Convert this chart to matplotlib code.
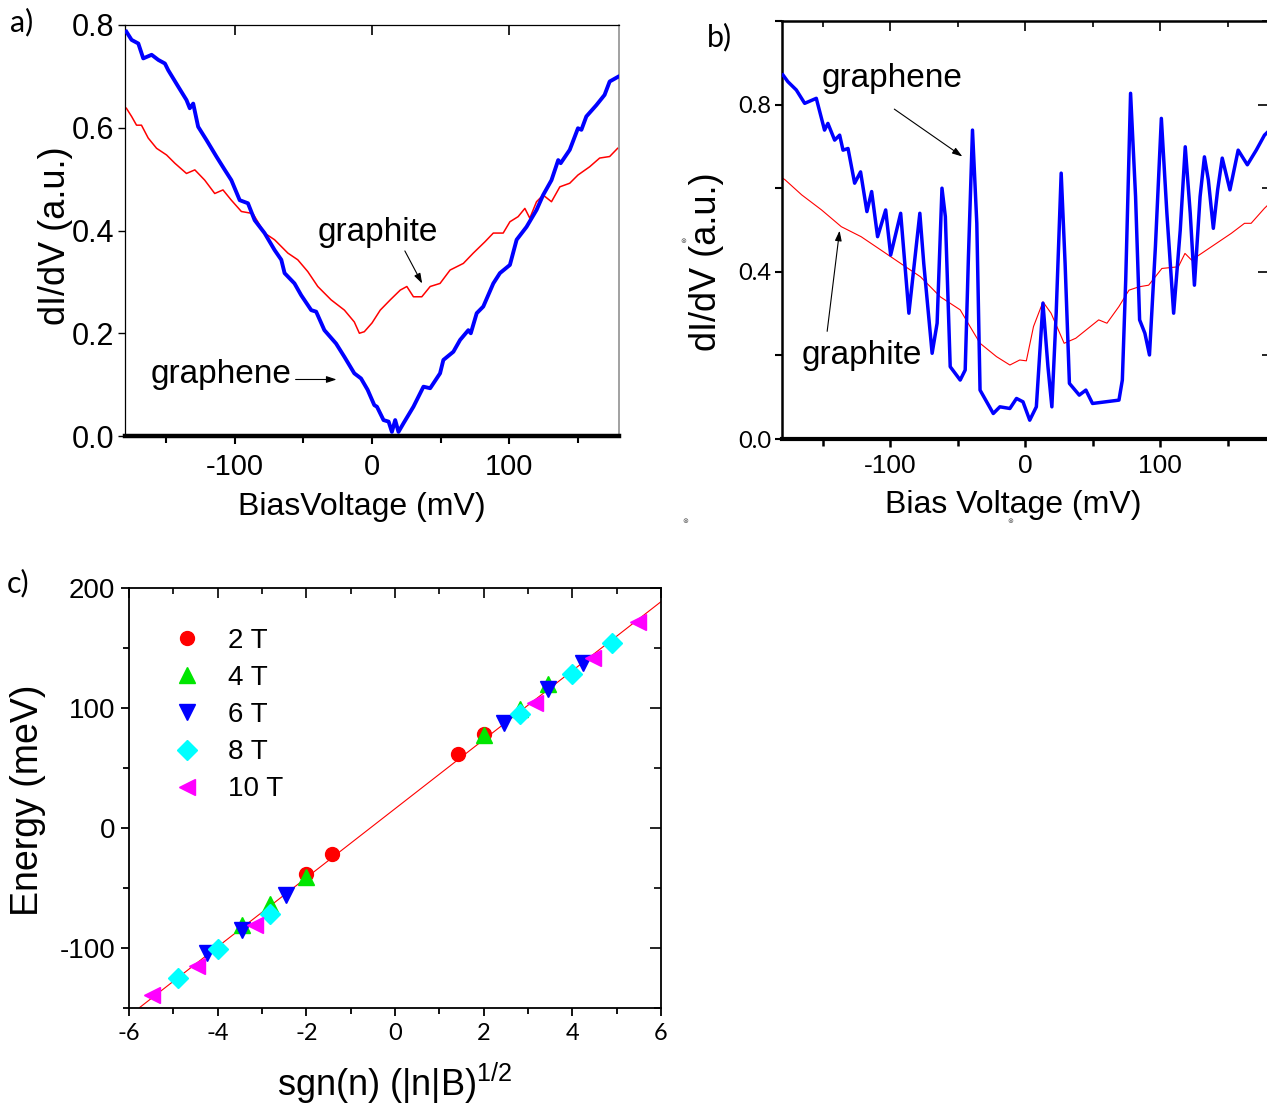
import matplotlib
matplotlib.use("Agg")
import matplotlib.pyplot as plt
from matplotlib.ticker import MultipleLocator, FormatStrFormatter

plt.rcParams['font.family'] = ['Liberation Sans', 'DejaVu Sans']
plt.rcParams['mathtext.fontset'] = 'custom'
plt.rcParams['mathtext.rm'] = 'Liberation Sans'
plt.rcParams['mathtext.it'] = 'Liberation Sans:italic'
plt.rcParams['axes.unicode_minus'] = False

# ---------------- data: panel a ----------------
a_bias_graphene = [-179, -175.2, -170.3, -166.7, -160.6, -155.7, -150.9, -148.5, -141.2, -135.2, -132.8, -130.3,
                   -126.7, -120.6, -113.4, -107.3, -102.5, -96.4, -90.4, -85.5, -78.3, -71, -66.1, -63.7, -56.5,
                   -51.6, -44.3, -40.7, -34.7, -26.2, -20.1, -12.9, -8, -3.2, 1.7, 3.6, 8.4, 12.1, 14.5, 16.9,
                   19.3, 23, 30.2, 37.5, 42.4, 49.6, 52, 59.3, 64.2, 70.2, 72, 76.3, 81.1, 88.4, 93.2, 100.5,
                   105.4, 112.6, 119.9, 124.7, 130.8, 135.7, 137.5, 144.1, 150.1, 152.6, 156.2, 163.5, 169.5,
                   173.2, 179.2]
a_didv_graphene = [0.787, 0.771, 0.764, 0.735, 0.742, 0.732, 0.725, 0.712, 0.680, 0.654, 0.638, 0.647,
                   0.602, 0.576, 0.544, 0.518, 0.498, 0.459, 0.453, 0.420, 0.395, 0.362, 0.343, 0.317, 0.297,
                   0.274, 0.245, 0.242, 0.206, 0.180, 0.154, 0.122, 0.112, 0.090, 0.060, 0.057, 0.031, 0.028,
                   0.008, 0.031, 0.008, 0.025, 0.057, 0.096, 0.093, 0.122, 0.148, 0.164, 0.187, 0.206, 0.200,
                   0.239, 0.252, 0.297, 0.317, 0.333, 0.382, 0.407, 0.440, 0.469, 0.498, 0.537, 0.531, 0.557,
                   0.599, 0.596, 0.622, 0.644, 0.664, 0.690, 0.699]
a_bias_graphite = [-179, -175.2, -171.6, -168, -163.1, -157, -149.7, -143.7, -135.2, -129.1, -121.9, -114.6,
                   -108.6, -102.5, -95.2, -86.8, -78.3, -71, -61.3, -54.1, -46.8, -39.5, -29.8, -20.1, -12.9,
                   -9.2, -5.6, 0, 6, 13.3, 20.6, 25.4, 30.2, 36.3, 42.4, 49.6, 56.9, 66.6, 73.8, 82.3, 88.4,
                   95.6, 100.5, 106.5, 111.4, 115, 119.9, 124.7, 130.8, 136.9, 144.1, 150.1, 158.6, 165.9, 173.2,
                   179]
a_didv_graphite = [0.638, 0.622, 0.605, 0.605, 0.580, 0.560, 0.547, 0.531, 0.511, 0.518, 0.498, 0.472,
                   0.479, 0.459, 0.437, 0.433, 0.395, 0.382, 0.356, 0.343, 0.320, 0.291, 0.265, 0.245, 0.222,
                   0.200, 0.203, 0.220, 0.245, 0.265, 0.284, 0.291, 0.271, 0.271, 0.291, 0.297, 0.323, 0.336,
                   0.356, 0.378, 0.395, 0.395, 0.417, 0.427, 0.443, 0.424, 0.456, 0.469, 0.456, 0.485, 0.492,
                   0.508, 0.524, 0.541, 0.544, 0.560]

# ---------------- data: panel b ----------------
b_bias_graphene = [-179.3, -175.7, -169.4, -163.2, -154.6, -148.5, -146, -141, -137.3, -134.8, -131.1, -126.2,
                   -121.8, -117.1, -113.6, -109.2, -103.2, -99.5, -92.1, -86, -77.9, -75, -68.8, -65.1, -61.5,
                   -59, -55.4, -48, -44.3, -41.9, -38.9, -35.7, -33.3, -23.5, -18.6, -11.2, -6.3, -1.5, 3.5,
                   8.4, 13.3, 17, 19.9, 23.1, 26.8, 29.7, 32.9, 40.2, 45.1, 50, 59.8, 69.6, 72.1, 74.6, 78.2,
                   81.9, 84.9, 88.8, 92.2, 96.6, 101, 105.1, 110.1, 115, 118.7, 122.4, 125.5, 129.7, 132.9, 135.8,
                   139.5, 142.7, 146.1, 151.8, 157.9, 164.7, 171.3, 177.4, 180]
b_didv_graphene = [0.871, 0.855, 0.835, 0.803, 0.815, 0.739, 0.755, 0.715, 0.727, 0.691, 0.695, 0.612,
                   0.639, 0.544, 0.592, 0.484, 0.548, 0.440, 0.540, 0.301, 0.540, 0.420, 0.205, 0.277, 0.600,
                   0.532, 0.173, 0.141, 0.165, 0.436, 0.739, 0.516, 0.117, 0.061, 0.077, 0.073, 0.097, 0.089,
                   0.045, 0.077, 0.325, 0.173, 0.077, 0.301, 0.636, 0.420, 0.133, 0.105, 0.117, 0.085, 0.089,
                   0.093, 0.141, 0.380, 0.827, 0.580, 0.285, 0.253, 0.201, 0.460, 0.767, 0.540, 0.301, 0.500,
                   0.699, 0.540, 0.368, 0.580, 0.675, 0.620, 0.504, 0.596, 0.672, 0.596, 0.691, 0.656, 0.691,
                   0.727, 0.735]
b_bias_graphite = [-180, -177.7, -165.4, -150.7, -136.1, -121.4, -106.7, -92.1, -77.4, -62.7, -48, -40.7,
                   -33.3, -21.1, -11.2, -3.9, 1.0, 6.3, 13.3, 19.3, 29, 37.6, 54.6, 60.7, 69.6, 77, 84.3, 91.6,
                   101.4, 113.6, 118.5, 123.4, 138.1, 152.8, 162.6, 167.5, 177.4, 180]
b_didv_graphite = [0.625, 0.620, 0.584, 0.548, 0.508, 0.484, 0.452, 0.420, 0.388, 0.340, 0.309, 0.269,
                   0.229, 0.197, 0.177, 0.189, 0.187, 0.269, 0.328, 0.301, 0.229, 0.241, 0.285, 0.277, 0.317,
                   0.356, 0.364, 0.368, 0.408, 0.412, 0.444, 0.428, 0.460, 0.492, 0.516, 0.516, 0.552, 0.560]

# ---------------- data: panel c ----------------
c_fields = ['2 T', '4 T', '6 T', '8 T', '10 T']
c_x = [
    [1.41, 2.0, -1.41, -2.0],
    [2.0, 2.83, 3.46, -2.0, -2.83, -3.46],
    [2.45, 3.46, 4.24, -2.45, -3.46, -4.24],
    [2.83, 4.0, 4.9, -2.83, -4.0, -4.9],
    [3.16, 4.47, 5.48, -3.16, -4.47, -5.48],
]
c_energy = [
    [61.6, 78.5, -21.4, -38.0],
    [77.6, 99.5, 119.9, -41.2, -63.6, -81.1],
    [87.9, 115.5, 137.4, -55.7, -84.9, -104.4],
    [95.1, 128.6, 154.3, -71.8, -100.6, -125.4],
    [104.5, 141.7, 171.7, -81.1, -115.2, -139.4],
]
fit_x = [-5.76, 6.0]
fit_energy = [-149.6, 188.6]

c_markers = ['o', '^', 'v', 'D', '<']
c_colors = ['#ff0000', '#00e600', '#0000ff', '#00ffff', '#ff00ff']
c_sizes = [10, 12, 12, 10, 12]

# ---------------- figure ----------------
W, H = 1267, 1107
fig = plt.figure(figsize=(W / 100, H / 100), dpi=100)


def box(l, t, r, b):
    return [l / W, 1 - b / H, (r - l) / W, (b - t) / H]


def top_right_ticks(ax, xmaj, xmin, ymaj, ymin, top=True, right=True, xlen=7, ylen=7):
    if top:
        sx = ax.secondary_xaxis('top')
        sx.xaxis.set_major_locator(MultipleLocator(xmaj))
        if xmin:
            sx.xaxis.set_minor_locator(MultipleLocator(xmin))
        sx.tick_params(which='major', direction='in', length=xlen, width=1.2, labeltop=False)
        sx.tick_params(which='minor', direction='in', length=xlen * 0.6, width=1.2, labeltop=False)
        sx.spines['top'].set_visible(False)
    if right:
        sy = ax.secondary_yaxis('right')
        sy.yaxis.set_major_locator(MultipleLocator(ymaj))
        if ymin:
            sy.yaxis.set_minor_locator(MultipleLocator(ymin))
        sy.tick_params(which='major', direction='in', length=ylen, width=1.2, labelright=False)
        sy.tick_params(which='minor', direction='in', length=ylen * 0.6, width=1.2, labelright=False)
        sy.spines['right'].set_visible(False)


ARROW = dict(arrowstyle='-|>,head_length=0.6,head_width=0.2', color='black', lw=0.8)

# ---- panel a ----
axa = fig.add_axes(box(125, 25, 619, 436))
axa.plot(a_bias_graphite, a_didv_graphite, color='#ff0000', lw=1.1, zorder=2)
axa.plot(a_bias_graphene, a_didv_graphene, color='#0000ff', lw=2.8, zorder=3)
axa.set_xlim(-180, 180)
axa.set_ylim(0, 0.8)
axa.xaxis.set_major_locator(MultipleLocator(100))
axa.xaxis.set_minor_locator(MultipleLocator(50))
axa.yaxis.set_major_locator(MultipleLocator(0.2))
axa.yaxis.set_major_formatter(FormatStrFormatter('%.1f'))
axa.tick_params(axis='x', which='major', direction='out', length=6, width=1.5, labelsize=21, pad=6)
axa.tick_params(axis='x', which='minor', direction='out', length=5, width=1.5)
axa.tick_params(axis='y', which='major', direction='out', length=5, width=1, labelsize=22, pad=3)
for s in ['left', 'top']:
    axa.spines[s].set_linewidth(0.9)
axa.spines['right'].set_linewidth(1.1)
axa.spines['right'].set_color('#888888')
axa.spines['bottom'].set_linewidth(3.2)
top_right_ticks(axa, 100, None, 0.2, None, top=True, right=False, xlen=7)
axa.set_xlabel('BiasVoltage (mV)', fontsize=23, va='center')
axa.xaxis.set_label_coords(0.48, -0.173)
axa.set_ylabel('dI/dV (a.u.)', fontsize=26, va='center')
axa.yaxis.set_label_coords(-0.14, 0.487)
axa.text(4.5, 0.396, 'graphite', fontsize=24, ha='center', va='center')
axa.annotate('', xy=(37.5, 0.292), xytext=(23, 0.365), arrowprops=ARROW)
axa.text(-110, 0.12, 'graphene', fontsize=24, ha='center', va='center')
axa.annotate('', xy=(-23.8, 0.110), xytext=(-57.7, 0.110), arrowprops=ARROW)

# ---- panel b ----
axb = fig.add_axes(box(782, 21, 1268, 439))
axb.plot(b_bias_graphite, b_didv_graphite, color='#ff0000', lw=0.8, zorder=2)
axb.plot(b_bias_graphene, b_didv_graphene, color='#0000ff', lw=2.5, zorder=3)
axb.set_xlim(-180, 180)
axb.set_ylim(0, 1.0)
axb.xaxis.set_major_locator(MultipleLocator(100))
axb.xaxis.set_minor_locator(MultipleLocator(50))
axb.yaxis.set_major_locator(MultipleLocator(0.4))
axb.yaxis.set_minor_locator(MultipleLocator(0.2))
axb.yaxis.set_major_formatter(FormatStrFormatter('%.1f'))
axb.tick_params(axis='x', which='major', direction='out', length=6, width=1.8, labelsize=19, pad=5)
axb.tick_params(axis='x', which='minor', direction='out', length=5, width=1.8)
axb.tick_params(axis='y', which='both', direction='out', length=5, width=1.5, pad=3)
for lab in axb.get_yticklabels():
    lab.set_fontfamily(['Lato', 'Liberation Sans'])
    lab.set_fontsize(17)
for s in ['left', 'top', 'right']:
    axb.spines[s].set_linewidth(1.8)
axb.spines['bottom'].set_linewidth(3.0)
top_right_ticks(axb, 100, 50, 0.4, 0.2, top=True, right=True, xlen=7, ylen=7)
axb.set_xlabel('Bias Voltage (mV)', fontsize=23, va='center')
axb.xaxis.set_label_coords(0.475, -0.158)
axb.set_ylabel('dI/dV (a.u.)', fontsize=26, va='center')
axb.yaxis.set_label_coords(-0.156, 0.424)
axb.text(-98.5, 0.862, 'graphene', fontsize=24, ha='center', va='center')
axb.annotate('', xy=(-44.7, 0.672), xytext=(-98.5, 0.793), arrowprops=ARROW)
axb.text(-120.6, 0.199, 'graphite', fontsize=24, ha='center', va='center')
axb.annotate('', xy=(-137.1, 0.505), xytext=(-146.8, 0.251), arrowprops=ARROW)

# ---- panel c ----
axc = fig.add_axes(box(129, 588, 661, 1008))
axc.plot(fit_x, fit_energy, color='#ff0000', lw=0.8, zorder=1)
for lab, xs, ys, mk, col, ms in zip(c_fields, c_x, c_energy, c_markers, c_colors, c_sizes):
    axc.plot(xs, ys, linestyle='none', marker=mk, color=col, markersize=ms, label=lab, zorder=3)
axc.set_xlim(-6, 6)
axc.set_ylim(-150, 200)
axc.xaxis.set_major_locator(MultipleLocator(2))
axc.xaxis.set_minor_locator(MultipleLocator(1))
axc.yaxis.set_major_locator(MultipleLocator(100))
axc.yaxis.set_minor_locator(MultipleLocator(50))
axc.tick_params(axis='both', which='major', direction='out', length=6, width=1.3)
axc.tick_params(axis='both', which='minor', direction='out', length=4, width=1.3)
axc.tick_params(axis='y', labelsize=20, pad=4)
axc.tick_params(axis='x', pad=5)
for lab in axc.get_xticklabels():
    lab.set_fontfamily(['Lato', 'Liberation Sans'])
    lab.set_fontsize(17)
for s in axc.spines.values():
    s.set_linewidth(1.3)
top_right_ticks(axc, 2, 1, 100, 50, top=True, right=True, xlen=7, ylen=8)
axc.set_xlabel(r'sgn(n) (|n|B)$^{\mathregular{1/2}}$', fontsize=26, va='center')
axc.xaxis.set_label_coords(0.5, -0.18)
axc.set_ylabel('Energy (meV)', fontsize=27, va='center')
axc.yaxis.set_label_coords(-0.19, 0.495)
leg = axc.legend(loc='upper left', bbox_to_anchor=(0.083, 0.905), frameon=False, fontsize=20,
                 handlelength=1.0, handletextpad=0.98, labelspacing=0.40, borderaxespad=0.0,
                 borderpad=0.0)

# ---- panel letters ----
fig.text(10 / W, 1 - 22 / H, 'a)', fontsize=22, family=['Lato', 'Liberation Sans'], va='center', ha='left')
fig.text(707 / W, 1 - 37 / H, 'b)', fontsize=22, family=['Lato', 'Liberation Sans'], va='center', ha='left')
fig.text(7 / W, 1 - 583 / H, 'c)', fontsize=22, family=['Lato', 'Liberation Sans'], va='center', ha='left')

# small scanning artefacts
for (px, py) in [(685, 521), (1010, 521), (683, 241)]:
    fig.text(px / W, 1 - py / H, '\u2297', fontsize=5, color='#555555', ha='center', va='center',
             family='DejaVu Sans')

fig.savefig('out.png', dpi=100, facecolor='white')
